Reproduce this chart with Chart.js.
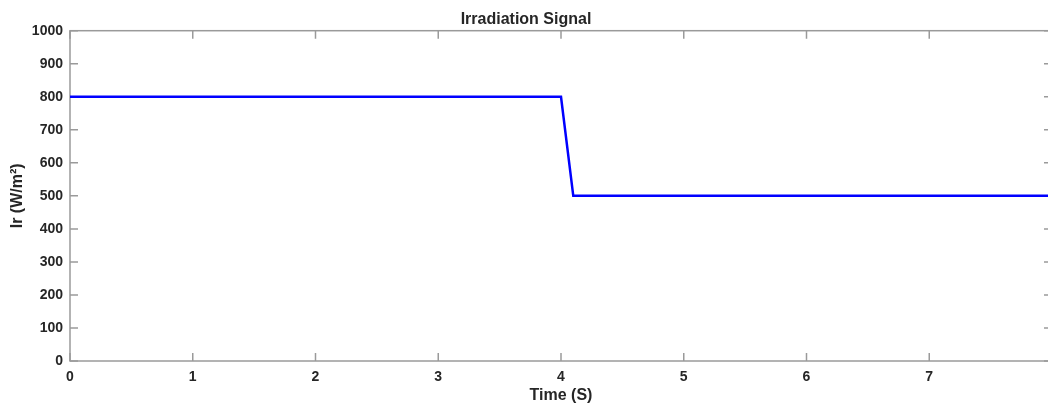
<!DOCTYPE html>
<html>
<head>
<meta charset="utf-8">
<script src="https://cdn.jsdelivr.net/npm/chart.js@4"></script>
<style>
    html, body { margin: 0; padding: 0; background: #fff; overflow: hidden; }
    #wrap { width: 1122px; height: 406px; position: relative; }
</style>
</head>
<body>
<div id="wrap"><canvas id="irrChart"></canvas></div>
<script>
// values
const timeValues = [0, 4.0, 4.1, 8];
const irradiance = [800, 800, 500, 500];
const xRange = [0, 8];
const yRange = [0, 1000];
const xStep = 1;
const yStep = 100;

const axisColor = '#9a9a9a';
const textColor = '#262626';
const fontFamily = '"Liberation Sans", Arial, sans-serif';

// MATLAB style box with inward ticks on all sides, drawn under the line
const boxTicks = {
    id: 'boxTicks',
    beforeDatasetsDraw(chart) {
        const ctx = chart.ctx;
        const a = chart.chartArea;
        const xs = chart.scales.x;
        const ys = chart.scales.y;
        const len = 8;
        ctx.save();
        ctx.strokeStyle = axisColor;
        ctx.lineWidth = 1.5;
        ctx.strokeRect(a.left, a.top, a.right - a.left, a.bottom - a.top);
        ctx.beginPath();
        xs.ticks.forEach(t => {
            const px = xs.getPixelForValue(t.value);
            ctx.moveTo(px, a.bottom); ctx.lineTo(px, a.bottom - len);
            ctx.moveTo(px, a.top); ctx.lineTo(px, a.top + len);
        });
        ys.ticks.forEach(t => {
            const py = ys.getPixelForValue(t.value);
            ctx.moveTo(a.left, py); ctx.lineTo(a.left + len, py);
            ctx.moveTo(a.right, py); ctx.lineTo(a.right - len, py);
        });
        ctx.stroke();
        ctx.restore();
    }
};

new Chart(document.getElementById('irrChart'), {
    type: 'line',
    data: {
        datasets: [{
            data: timeValues.map((t, i) => ({ x: t, y: irradiance[i] })),
            borderColor: '#0000ff',
            borderWidth: 2.5,
            pointRadius: 0,
            tension: 0,
            fill: false
        }]
    },
    options: {
        responsive: true,
        maintainAspectRatio: false,
        animation: false,
        layout: { padding: { left: 0, right: 70, top: 0, bottom: 0 } },
        plugins: {
            legend: { display: false },
            tooltip: { enabled: false },
            title: {
                display: true,
                text: 'Irradiation Signal',
                color: textColor,
                font: { family: fontFamily, size: 16, weight: 'bold' },
                padding: { top: 10, bottom: 1.5 }
            }
        },
        scales: {
            x: {
                type: 'linear',
                min: xRange[0],
                max: xRange[1],
                grid: { display: false, drawTicks: false },
                border: { display: false },
                ticks: {
                    stepSize: xStep,
                    color: textColor,
                    padding: 8,
                    maxRotation: 0,
                    font: { family: fontFamily, size: 14, weight: 'bold' },
                    callback: v => String(v)
                },
                title: {
                    display: true,
                    text: 'Time (S)',
                    color: textColor,
                    font: { family: fontFamily, size: 16, weight: 'bold' },
                    padding: { top: 0, bottom: 1 }
                },
                afterFit(scale) { scale.height = 45; }
            },
            y: {
                min: yRange[0],
                max: yRange[1],
                grid: { display: false, drawTicks: false },
                border: { display: false },
                ticks: {
                    stepSize: yStep,
                    color: textColor,
                    padding: 7,
                    font: { family: fontFamily, size: 14, weight: 'bold' },
                    callback: v => String(v)
                },
                title: {
                    display: true,
                    text: 'Ir (W/m²)',
                    color: textColor,
                    font: { family: fontFamily, size: 16, weight: 'bold' },
                    padding: { top: 8, bottom: 0 }
                },
                afterFit(scale) { scale.width = 70; }
            }
        }
    },
    plugins: [boxTicks]
});
</script>
</body>
</html>
